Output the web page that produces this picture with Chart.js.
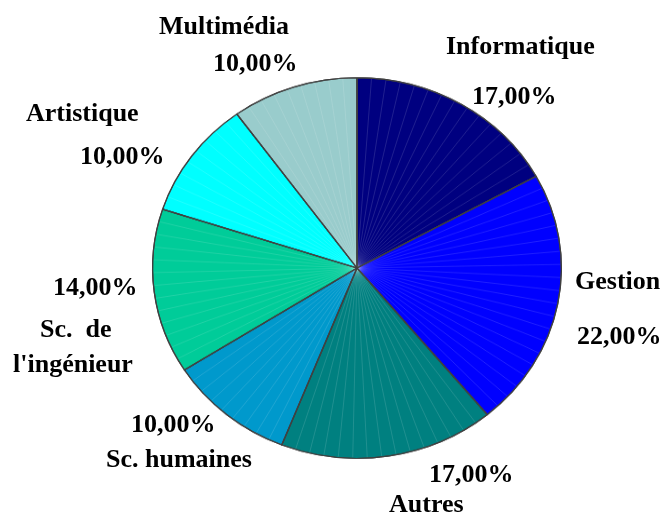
<!DOCTYPE html>
<html>
<head>
<meta charset="utf-8">
<script src="https://cdn.jsdelivr.net/npm/chart.js@4"></script>
<style>
html,body{margin:0;padding:0;background:#fff;}
#wrap{position:relative;width:665px;height:512px;overflow:hidden;}
#cv{position:absolute;left:0;top:0;transform:scaleY(0.931);transform-origin:0 268px;}
.lb{position:absolute;font-family:"Liberation Serif","Times New Roman",serif;font-weight:bold;font-size:26px;color:#000;white-space:pre;line-height:1;}
</style>
</head>
<body>
<div id="wrap">
<canvas id="cv" width="665" height="512"></canvas>
</div>
<script>
const categories = ["Informatique","Gestion","Autres","Sc. humaines","Sc.  de\nl'ingénieur","Artistique","Multimédia"];
const values = [17,22,17,10,14,10,10];
const colors = ["#000080","#0000FF","#008080","#0099CC","#00CC99","#00FFFF","#99CCCC"];
// label layout: name lines [[left, top], ...], percent [left, top]
const nameBoxes = [
  [[446,33]],
  [[575,268]],
  [[389,491]],
  [[106,446]],
  [[40,316],[13,351]],
  [[26,100]],
  [[159,13]]
];
const pctBoxes = [[472,83],[577,323],[429,461],[131,411],[53,274],[80,143],[213,50]];
function pct(v){ return v.toFixed(2).replace('.',',') + '%'; }

const wrap = document.getElementById('wrap');
function addText(t,l,tp){
  const e = document.createElement('div');
  e.className='lb'; e.textContent=t; e.style.left=l+'px'; e.style.top=tp+'px';
  wrap.appendChild(e);
}
categories.forEach((c,i)=>{
  addText(pct(values[i]), pctBoxes[i][0], pctBoxes[i][1]);
  const lines = c.split('\n');
  lines.forEach((ln,k)=> addText(ln, nameBoxes[i][k][0], nameBoxes[i][k][1]));
});

const rays = {
  id:'rays',
  afterDatasetDraw(chart){
    const meta = chart.getDatasetMeta(0);
    const ctx = chart.ctx;
    ctx.save();
    meta.data.forEach(arc=>{
      const {x,y,startAngle,endAngle,outerRadius} = arc.getProps(['x','y','startAngle','endAngle','outerRadius'],true);
      const n = Math.max(2, Math.round((endAngle-startAngle)/0.07));
      ctx.strokeStyle='rgba(255,255,255,0.22)';
      ctx.lineWidth=0.6;
      for(let k=1;k<n;k++){
        const ang = startAngle + (endAngle-startAngle)*k/n;
        ctx.beginPath();
        ctx.moveTo(x,y);
        ctx.lineTo(x+Math.cos(ang)*(outerRadius-1), y+Math.sin(ang)*(outerRadius-1));
        ctx.stroke();
      }
    });
    meta.data.forEach(arc=>{
      const {x,y,startAngle,endAngle,outerRadius} = arc.getProps(['x','y','startAngle','endAngle','outerRadius'],true);
      ctx.strokeStyle='#404040'; ctx.lineWidth=1.2;
      ctx.beginPath(); ctx.moveTo(x,y);
      ctx.arc(x,y,outerRadius,startAngle,endAngle); ctx.closePath(); ctx.stroke();
    });
    ctx.restore();
  }
};

new Chart(document.getElementById('cv'), {
  type:'pie',
  data:{ labels:categories, datasets:[{ data:values, backgroundColor:colors, borderColor:'#404040', borderWidth:1.2 }]},
  options:{
    responsive:false, animation:false,
    layout:{ padding:{left:152, right:103, top:63, bottom:39} },
    plugins:{ legend:{display:false}, tooltip:{enabled:false} }
  },
  plugins:[rays]
});
</script>
</body>
</html>
